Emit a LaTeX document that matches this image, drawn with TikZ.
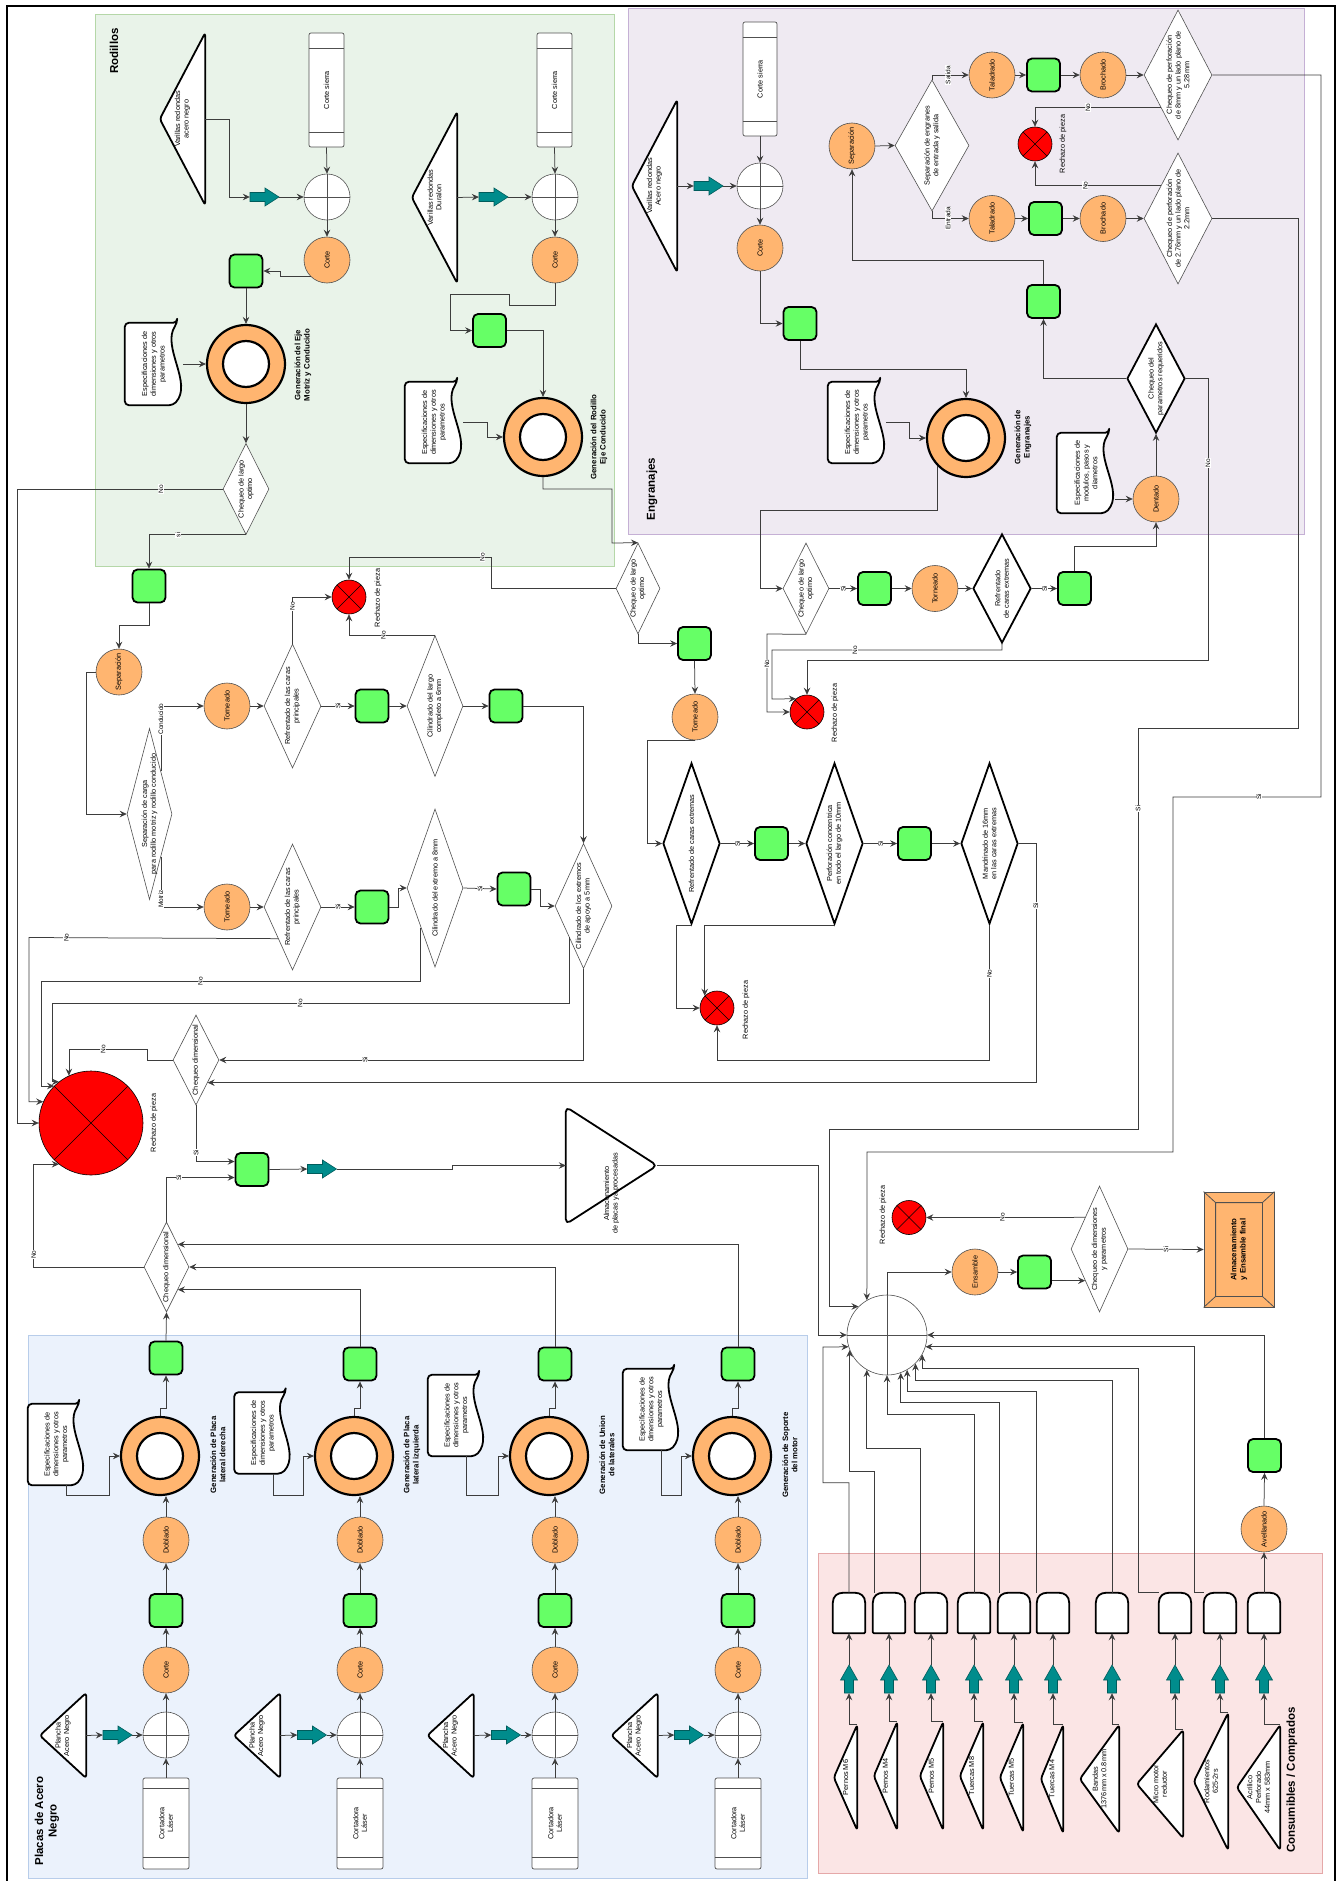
\documentclass[tikz,border=0pt]{standalone}
\usepackage{fontspec}
\setmainfont{Liberation Sans}
\usetikzlibrary{shapes.geometric,arrows.meta,calc}
\pgfdeclarelayer{bg}
\pgfdeclarelayer{shp}
\pgfsetlayers{bg,shp,main}

\definecolor{orangec}{HTML}{FFB570}
\definecolor{greenc}{HTML}{66FF66}
\definecolor{tealc}{HTML}{008C8C}
\definecolor{tealdk}{HTML}{005C5C}
\definecolor{linec}{HTML}{3D3D3D}
\definecolor{opline}{HTML}{505050}
\definecolor{rodf}{HTML}{E9F3E9}\definecolor{rodd}{HTML}{B5D7A8}
\definecolor{engf}{HTML}{EFEAF2}\definecolor{engd}{HTML}{C5B0D5}
\definecolor{plaf}{HTML}{EBF2FC}\definecolor{plad}{HTML}{B8CDEA}
\definecolor{conf}{HTML}{FBE5E5}\definecolor{cond}{HTML}{E5A8A8}

\newcommand\ftx{\fontsize{7.3}{8.7}\selectfont}
\newcommand\fln{\fontsize{6.5}{7.5}\selectfont}
\newcommand\fcap{\fontsize{7.8}{9.2}\selectfont\bfseries}
\newcommand\freg{\fontsize{11.5}{13.5}\selectfont\bfseries}

\tikzset{
  conn/.style={draw=linec, line width=0.75pt},
  arr/.style={conn, -{Stealth[length=7pt,width=6.5pt,inset=2.5pt]}},
  lab/.style={rotate=90, align=center, font=\ftx, inner sep=0pt},
  txt/.style={label={[lab]center:{#1}}},
  onl/.style={rotate=90, fill=white, inner sep=0.6pt, font=\fln},
  gcap/.style={rotate=90, align=center, font=\fcap, inner sep=0pt},
  regt/.style={rotate=90, align=center, font=\freg, inner sep=0pt},
  op/.style={circle, draw=opline, line width=0.6pt, fill=orangec, minimum size=46pt, inner sep=0pt},
  buf/.style={rectangle, rounded corners=5pt, draw=black, line width=1.8pt, fill=greenc, minimum size=33pt, inner sep=0pt},
  dia/.style 2 args={diamond, draw=opline, line width=0.6pt, fill=white, minimum width=#1pt, minimum height=#2pt, inner sep=0pt},
  thk/.style={draw=black, line width=1.8pt},
  mix/.style={circle, draw=opline, line width=0.6pt, fill=white, minimum size=46pt, inner sep=0pt},
  rej/.style={circle, draw=black, line width=0.6pt, fill=red, minimum size=34pt, inner sep=0pt},
  ring/.style={circle, draw=black, line width=2.2pt, fill=orangec, minimum size=78pt, inner sep=0pt},
  hole/.style={circle, draw=black, line width=2.2pt, fill=white, minimum size=46pt, inner sep=0pt},
  store/.style 2 args={rectangle, rounded corners=2pt, draw=opline, line width=0.7pt, fill=white, minimum width=#1pt, minimum height=#2pt, inner sep=0pt},
  frm/.style 2 args={minimum width=#1pt, minimum height=#2pt, inner sep=0pt},
  blk/.style={minimum width=29pt, minimum height=18pt, inner sep=0pt},
  blku/.style={minimum width=18pt, minimum height=28pt, inner sep=0pt},
  rawst/.style={draw=black, line width=1.8pt, fill=white, rounded corners=3pt, line join=round},
  docst/.style={draw=black, line width=1.8pt, fill=white, rounded corners=4pt, line join=round},
  tealst/.style={draw=tealdk, line width=0.6pt, fill=tealc},
}

\begin{document}
\begin{tikzpicture}[x=1pt,y=-1pt]
\useasboundingbox (0,0) rectangle (1339,1881);

% Zonas
\begin{pgfonlayer}{bg}
  \fill[white] (0,0) rectangle (1339,1881);
  \draw[rodd, fill=rodf, line width=0.8pt] (95,14) rectangle (614,566);
  \draw[engd, fill=engf, line width=0.8pt] (628,8) rectangle (1304,534);
  \draw[plad, fill=plaf, line width=0.8pt] (28,1335) rectangle (807,1878);
  \draw[cond, fill=conf, line width=0.8pt] (818,1553) rectangle (1322,1873);
\end{pgfonlayer}
\draw[line width=2.4pt] (7,1895) -- (7,6) -- (1335,6) -- (1335,1895);
\node[regt] (t1) at (114,51) {Rodillos};
\node[regt] (t2) at (652,489) {Engranajes};
\node[regt] (t3) at (47,1821) {Placas de Acero\\Negro};
\node[regt] (t4) at (1292,1780) {Consumibles / Comprados};

% Rodillos: eje motriz y conducido
\node[frm={45}{172}, txt={Varillas redondas\\acero negro}] (va1) at (182.5,119) {};
\node[store={35}{114}, txt={Corte sierra}] (cs1) at (326.5,90) {};
\node[blk] (ta1) at (264.5,197) {};
\node[mix] (mx1) at (327,197) {};
\node[op, txt={Corte}] (co1) at (327,260) {};
\node[buf] (g1) at (246,271) {};
\node[ring] (r1) at (246,364) {};
\node[frm={58}{82}, txt={Especificaciones de\\dimensiones y otros\\parametros}] (sp1) at (154,364) {};
\node[gcap] (gn1) at (303,365) {Generación del Eje\\Motriz y Conducido};
\node[dia={46}{91}, txt={Chequeo de largo\\optimo}] (ck1) at (246,489) {};
\node[buf] (g2) at (149,586) {};
\node[op, txt={Separación}] (se1) at (119,672) {};
\node[dia={45}{171}, txt={Separación de carga\\para rodillo motriz y rodillo conducido}] (sc1) at (149.5,814) {};
\node[op, txt={Torneado}] (tn1) at (227,706) {};
\node[dia={57}{124}, txt={Refrentado de las caras\\principales}] (rf1) at (292.5,706) {};
\node[rej] (x1) at (349,597) {};
\node[lab] (x1l) at (378,598) {Rechazo de pieza};
\node[buf] (g3) at (372,706) {};
\node[dia={56}{141}, txt={Cilindrado del largo\\completo a 6mm}] (cl1) at (435,706) {};
\node[buf] (g4) at (506,706) {};
\node[op, txt={Torneado}] (tn2) at (227,907) {};
\node[dia={57}{126}, txt={Refrentado de las caras\\principales}] (rf2) at (292.5,907) {};
\node[buf] (g5) at (372,907) {};
\node[dia={56}{158}, txt={Cilindrado del extremo a 8mm}] (cl2) at (435,888) {};
\node[buf] (g6) at (514,889) {};
\node[dia={57}{125}, txt={Cilindrado de los extremos\\de apoyo a 5mm}] (cl3) at (583.5,906) {};

% Rodillos: rodillo Duralon
\node[frm={45}{171}, txt={Varillas redondas\\Duralon}] (va2) at (434.5,197.5) {};
\node[store={35}{114}, txt={Corte sierra}] (cs2) at (554.5,90) {};
\node[blk] (ta2) at (493.5,197) {};
\node[mix] (mx2) at (555,197) {};
\node[op, txt={Corte}] (co2) at (555,260) {};
\node[buf] (g7) at (489.5,330.5) {};
\node[ring] (r2) at (543,437) {};
\node[frm={58}{81}, txt={Especificaciones de\\dimensiones y otros\\parametros}] (sp2) at (434,422.5) {};
\node[gcap] (gn2) at (599,437) {Generación del Rodillo\\Eje Conducido};
\node[dia={44}{91}, txt={Chequeo de largo\\optimo}] (ck2) at (638,588.5) {};
\node[buf] (g8) at (694.5,643.5) {};
\node[op, txt={Torneado}] (tn3) at (695,717) {};
\node[dia={57}{161}, thk, txt={Refrentado de caras extremas}] (rf3) at (691.5,843.5) {};
\node[buf] (g9) at (771.5,843.5) {};
\node[dia={57}{161}, thk, txt={Perforación concentrica\\en todo el largo de 10mm}] (pf1) at (834.5,843.5) {};
\node[buf] (g10) at (914.5,843.5) {};
\node[dia={57}{161}, thk, txt={Mandrinado de 16mm\\en las caras extremas}] (md1) at (989.5,843.5) {};
\node[rej] (x2) at (717,1008) {};
\node[lab] (x2l) at (746,1010) {Rechazo de pieza};

% Engranajes
\node[frm={45}{172}, txt={Varillas redondas\\Acero negro}] (va3) at (654.5,186) {};
\node[store={34}{114}, txt={Corte sierra}] (cs3) at (760,79) {};
\node[blk] (ta3) at (708.5,186) {};
\node[mix] (mx3) at (760,186) {};
\node[op, txt={Corte}] (co3) at (760,248) {};
\node[buf] (g11) at (800,323.5) {};
\node[ring] (r3) at (966,438) {};
\node[frm={58}{81}, txt={Especificaciones de\\dimensiones y otros\\parametros}] (sp3) at (857,422.5) {};
\node[gcap] (gn3) at (1023,437) {Generación de\\Engranajes};
\node[dia={46}{91}, txt={Chequeo de largo\\optimo}] (ck3) at (806,588.5) {};
\node[buf] (g12) at (874.5,588.5) {};
\node[op, txt={Torneado}] (tn4) at (935,588.5) {};
\node[dia={58}{109}, thk, txt={Refrentado\\de caras extremas}] (rf4) at (1002,588.5) {};
\node[buf] (g13) at (1074.5,588.5) {};
\node[op, txt={Dentado}] (dt1) at (1156,499) {};
\node[frm={58}{80}, txt={Especificaciones de\\modulos, pasos y\\diametros}] (sp4) at (1086,473) {};
\node[dia={58}{109}, thk, txt={Chequeo del\\parametros requeridos}] (cp1) at (1156,378.5) {};
\node[buf] (g14) at (1043.5,301.5) {};
\node[op, txt={Separación}] (se2) at (852,146) {};
\node[dia={74}{131}, txt={Separación de engranes\\de entrada y salida}] (sg1) at (932,145.5) {};
\node[op, txt={Taladrado}] (tl1) at (992,75) {};
\node[buf] (g15) at (1043.5,75) {};
\node[op, txt={Brochado}] (br1) at (1103,75) {};
\node[dia={68}{130}, txt={Chequeo de perforación\\de 8mm  y un lado plano de\\5.28mm}] (cq1) at (1178,75) {};
\node[rej] (x3) at (1035,144) {};
\node[lab] (x3l) at (1063,144) {Rechazo de pieza};
\node[op, txt={Taladrado}] (tl2) at (992,218.5) {};
\node[buf] (g16) at (1045.5,218.5) {};
\node[op, txt={Brochado}] (br2) at (1103,218.5) {};
\node[dia={68}{131}, txt={Chequeo de perforación\\de 2.76mm y un lado plano de\\2.2mm}] (cq2) at (1178,218.5) {};
\node[rej] (x4) at (807,712) {};
\node[lab] (x4l) at (835,713) {Rechazo de pieza};

% Chequeos, almacenamiento y ensamble
\node[dia={46}{90}, txt={Chequeo dimensional}] (cd1) at (196,1060) {};
\node[rej, minimum size=104pt] (xb) at (91,1123) {};
\node[lab] (xbl) at (154,1123) {Rechazo de pieza};
\node[buf] (g17) at (252,1169.5) {};
\node[blk] (ta4) at (322,1169) {};
\node[frm={91}{117}, label={[lab,xshift=-28pt]center:{Almacenamiento\\de placas ya procesadas}}] (al1) at (611.5,1165.5) {};
\node[dia={45}{90}, txt={Chequeo dimensional}] (cd2) at (166.5,1267) {};
\node[mix, minimum size=80pt] (as1) at (887,1335) {};
\node[op, txt={Ensamble}] (en1) at (975,1272) {};
\node[buf] (g18) at (1034.5,1272) {};
\node[dia={57}{126}, txt={Chequeo de dimensiones\\y parametros}] (ck4) at (1099.5,1249) {};
\node[rej] (x5) at (909,1217.5) {};
\node[lab] (x5l) at (883,1215) {Rechazo de pieza};
\node[rectangle, draw=opline, line width=0.8pt, fill=orangec, minimum width=70pt, minimum height=115pt, inner sep=0pt,
      label={[lab,font=\fcap]center:{Almacenamiento\\y Ensamble final}}] (fb1) at (1239,1249.5) {};
\draw[opline, line width=0.8pt] ([shift={(12pt,-11pt)}]fb1.north west) rectangle ([shift={(-12pt,11pt)}]fb1.south east)
  (fb1.north west) -- ([shift={(12pt,-11pt)}]fb1.north west)
  (fb1.north east) -- ([shift={(-12pt,-11pt)}]fb1.north east)
  (fb1.south west) -- ([shift={(12pt,11pt)}]fb1.south west)
  (fb1.south east) -- ([shift={(-12pt,11pt)}]fb1.south east);
\node[op, txt={Avellanado}] (av1) at (1264,1529) {};
\node[buf] (g19) at (1264.5,1455.5) {};

% Placas de acero negro
\foreach \i/\cx/\gy/\ap/\tx/\dx/\dy/\dd/\gt in {
    1/166/1358/63/117.5/56.5/1444.5/10/{Generación de Placa\\lateral derecha},
    2/360/1364/257/312/263/1433/21.5/{Generación de Placa\\lateral izquierda},
    3/555/1364/450.5/506/456.5/1415.5/39/{Generación de Union\\de laterales},
    4/738/1364/634.5/689/651.5/1409.5/45/{Generación de Soporte\\del motor}} {
  \node[buf] (pg\i) at (\cx,\gy) {};
  \node[ring] (pr\i) at (\cx-6,1456) {};
  \node[op, txt={Doblado}] (pb\i) at (\cx,1540) {};
  \node[buf] (pq\i) at (\cx,1610.5) {};
  \node[op, txt={Corte}] (pk\i) at (\cx,1670) {};
  \node[mix] (pm\i) at (\cx,1735) {};
  \node[store={46}{91}, txt={Cortadora\\Láser}] (pc\i) at (\cx,1823.5) {};
  \node[frm={46}{85}, txt={Plancha\\Acero Negro}] (pt\i) at (\ap,1735.5) {};
  \node[blk] (pa\i) at (\tx,1735) {};
  \node[frm={57}{81}, txt={Especificaciones de\\dimensiones y otros\\parametros}] (pd\i) at (\dx,\dy) {};
  \node[gcap] (pn\i) at (\cx+52,1455) {\gt};
  \draw[arr] (pc\i.north) -- (pm\i.south);
  \draw[arr] (pt\i.east) -- (pa\i.west);
  \draw[arr] (pa\i.east) -- (pm\i.west);
  \draw[arr] (pm\i.north) -- (pk\i.south);
  \draw[arr] (pk\i.north) -- (pq\i.south);
  \draw[arr] (pq\i.north) -- (pb\i.south);
  \draw[arr] (pb\i.north) -- (pb\i.north |- pr\i.south);
  \draw[arr] (pr\i.north) -- ++(0,-8) -| (pg\i.south);
  \draw[arr] ([xshift=10pt]pd\i.south) -- ++(0,\dd) -| ([xshift=-11pt]pr\i.west) -- (pr\i.west);
}

% Consumibles / comprados
\foreach \i/\x in {1/849,2/889,3/931,4/974,5/1014,6/1053,7/1112,8/1175,9/1220,10/1264} {
  \node[frm={32}{40}] (d\i) at (\x,1613) {};
  \node[blku] (tu\i) at (\x,1679) {};
}
\foreach \i/\x/\y/\w/\h/\nm in {
    1/845.5/1777.5/23/105/{Pernos M6}, 2/885.5/1776/23/108/{Pernos M4},
    3/931.5/1776/23/108/{Pernos M5}, 4/971.5/1776/23/108/{Tuercas M8},
    5/1011.5/1777.5/23/109/{Tuercas M5}, 6/1052/1779/22/108/{Tuercas M4},
    7/1099.5/1779/39/108/{Bandas\\1376mm x 0.8mm}, 8/1160/1784/46/108/{Micro motor\\reductor},
    9/1211/1781.5/34/137/{Rodamientos\\625-2rs}, 10/1258.5/1787.5/43/125/{Acrilico\\Perforado\\44mm x 583mm}}
  \node[frm={\w}{\h}, txt={\nm}] (tc\i) at (\x,\y) {};

% Figuras dibujadas
\begin{pgfonlayer}{shp}
  \foreach \t in {va1,va2,va3,pt1,pt2,pt3,pt4,tc1,tc2,tc3,tc4,tc5,tc6,tc7,tc8,tc9,tc10}
    \draw[rawst] (\t.north east) -- (\t.west) -- (\t.south east) -- cycle;
  \draw[rawst, rounded corners=5pt] (al1.north west) -- (al1.east) -- (al1.south west) -- cycle;
  \foreach \d in {sp1,sp2,sp3,sp4,pd1,pd2,pd3,pd4}
    \draw[docst] ($(\d.north east)+(-6,0)$) -- (\d.north west) -- (\d.south west) -- ($(\d.south east)+(-10,0)$)
      .. controls ($(\d.south east)+(10,-22)$) and ($(\d.north east)+(-22,24)$) .. ($(\d.north east)+(-6,0)$) -- cycle;
  \foreach \i in {1,...,10}
    \draw[rawst, rounded corners=1pt] (d\i.south west) -- ($(d\i.north west)+(0,11)$)
      .. controls ($(d\i.north west)+(0,3)$) and ($(d\i.north west)+(5,0)$) .. ($(d\i.north west)+(11,0)$)
      -- ($(d\i.north east)+(-11,0)$)
      .. controls ($(d\i.north east)+(-5,0)$) and ($(d\i.north east)+(0,3)$) .. ($(d\i.north east)+(0,11)$)
      -- (d\i.south east) -- cycle;
  \foreach \a in {ta1,ta2,ta3,ta4,pa1,pa2,pa3,pa4} {
    \begin{scope}[shift={(\a.center)}]
      \draw[tealst] (-14.5,-4.5) -- (0.5,-4.5) -- (0.5,-9) -- (14.5,0) -- (0.5,9) -- (0.5,4.5) -- (-14.5,4.5) -- cycle;
    \end{scope}
  }
  \foreach \a in {tu1,tu2,tu3,tu4,tu5,tu6,tu7,tu8,tu9,tu10} {
    \begin{scope}[shift={(\a.center)}]
      \draw[tealst] (-4.5,14) -- (-4.5,1) -- (-8.5,1) -- (0,-14) -- (8.5,1) -- (4.5,1) -- (4.5,14) -- cycle;
    \end{scope}
  }
\end{pgfonlayer}
\foreach \r in {r1,r2,r3,pr1,pr2,pr3,pr4} \node[hole] (\r-h) at (\r) {};
\foreach \m in {mx1,mx2,mx3,pm1,pm2,pm3,pm4,as1}
  \draw[opline, line width=0.6pt] (\m.north) -- (\m.south) (\m.west) -- (\m.east);
\foreach \r in {x1,x2,x3,x4,x5,xb}
  \draw[black, line width=0.6pt] (\r.45) -- (\r.225) (\r.135) -- (\r.315);
\foreach \s in {cs1,cs2,cs3}
  \draw[opline, line width=0.7pt] ([yshift=-16pt]\s.north west) -- ([yshift=-16pt]\s.north east)
    ([yshift=15pt]\s.south west) -- ([yshift=15pt]\s.south east);
\foreach \s in {pc1,pc2,pc3,pc4}
  \draw[opline, line width=0.7pt] ([yshift=-11pt]\s.north west) -- ([yshift=-11pt]\s.north east)
    ([yshift=12pt]\s.south west) -- ([yshift=12pt]\s.south east);

% Conexiones: eje motriz y conducido
\draw[arr] (va1.east) -- ++(24,0) |- (ta1.west);
\draw[arr] (ta1.east) -- (mx1.west);
\draw[arr] (cs1.south) -- (mx1.north);
\draw[arr] (mx1.south) -- (co1.north);
\draw[arr] (co1.south west) -- ++(-30,0) |- (g1.east);
\draw[arr] (g1.south) -- (r1.north);
\draw[arr] (sp1.east) -- (r1.west);
\draw[arr] (r1.south) -- (ck1.north);
\draw[arr] (ck1.west) -- node[onl,pos=.3] (l1) {No} (17,489) |- (xb.west);
\draw[arr] (ck1.south) -| node[onl,pos=.35] (l2) {si} (g2.north);
\draw[arr] (g2.south) -- ++(0,22) -| (se1.north);
\draw[arr] (se1.west) -- ++(-9,0) |- (sc1.west);
\draw[arr] (sc1.north east) |- node[onl,pos=.4] (l3) {Conducido} (tn1.west);
\draw[arr] (sc1.south east) |- node[onl,pos=.42] (l4) {Motriz} (tn2.west);
\draw[arr] (tn1.east) -- (rf1.west);
\draw[arr] (rf1.north) |- node[onl,pos=.4] (l5) {No} (x1.west);
\draw[arr] (rf1.east) -- node[onl] (l6) {Si} (g3.west);
\draw[arr] (g3.east) -- (cl1.west);
\draw[arr] (cl1.north) -| node[onl,pos=.3] (l7) {No} (x1.south);
\draw[arr] (cl1.east) -- (g4.west);
\draw[arr] (g4.east) -| (cl3.north);
\draw[arr] (tn2.east) -- (rf2.west);
\draw[arr] (rf2.east) -- node[onl] (l8) {Si} (g5.west);
\draw[arr] (g5.east) -- ++(9,0) |- (cl2.west);
\draw[arr] (cl2.east) -- node[onl] (l9) {Si} (g6.west);
\draw[arr] (g6.east) -- ++(9,0) |- (cl3.west);
\draw[arr] (cl3.south) |- node[onl,pos=.8] (l10) {Si} (cd1.east);
\draw[arr] (rf2.south west) -- node[onl,pos=.85] (l11) {No} (29,937.5) |- (xb.156);
\draw[arr] (cl2.south west) |- node[onl,pos=.79] (l12) {No} (41,981) |- (xb.135);
\draw[arr] (cl3.south west) |- node[onl,pos=.76] (l13) {No} (52,1003) |- (xb.128);

% Conexiones: rodillo Duralon
\draw[arr] (va2.east) -- (ta2.west);
\draw[arr] (ta2.east) -- (mx2.west);
\draw[arr] (cs2.south) -- (mx2.north);
\draw[arr] (mx2.south) -- (co2.north);
\draw[arr] (co2.south) -- ++(0,22) -| (509,294) -| (450,330.5) -- (g7.west);
\draw[arr] (g7.east) -| (r2.north);
\draw[arr] (sp2.east) -- ++(24,0) |- (r2.west);
\draw[arr] (r2.south) -- ++(0,12) -| (612,543) -- (ck2.north);
\draw[arr] (ck2.west) -- (491,588.5) |- node[onl,pos=.53] (l14) {No} (349,557) -- (x1.north);
\draw[arr] (ck2.south) |- (g8.west);
\draw[arr] (g8.south) -- (tn3.north);
\draw[arr] (tn3.south) -| (647,843.5) -- (rf3.west);
\draw[arr] (rf3.east) -- node[onl] (l15) {Si} (g9.west);
\draw[arr] (g9.east) -- (pf1.west);
\draw[arr] (pf1.east) -- node[onl] (l16) {Si} (g10.west);
\draw[arr] (g10.east) -- (md1.west);
\draw[arr] (md1.east) -- ++(17,0) |- node[onl,pos=.13] (l17) {Si} (cd1.south east);
\draw[arr] (md1.south) -- node[onl,pos=.36] (l18) {No} (989.5,1060) -| (x2.south);
\draw[arr] (rf3.south) -- ++(-15,0) |- (x2.west);
\draw[arr] (pf1.south) -| (x2.135);

% Conexiones: engranajes
\draw[arr] (va3.east) -- (ta3.west);
\draw[arr] (ta3.east) -- (mx3.west);
\draw[arr] (cs3.south) -- (mx3.north);
\draw[arr] (mx3.south) -- (co3.north);
\draw[arr] (co3.south) |- (g11.west);
\draw[arr] (g11.south) -- ++(0,28) -| (r3.north);
\draw[arr] (sp3.east) -- ++(23,0) |- (r3.west);
\draw[arr] (r3.south west) |- (760,510) |- (ck3.west);
\draw[arr] (ck3.east) -- node[onl] (l19) {Si} (g12.west);
\draw[arr] (g12.east) -- (tn4.west);
\draw[arr] (tn4.east) -- (rf4.west);
\draw[arr] (rf4.east) -- node[onl] (l20) {Si} (g13.west);
\draw[arr] (g13.north) -- ++(0,-25) -| (dt1.south);
\draw[arr] (sp4.east |- dt1.west) -- (dt1.west);
\draw[arr] (dt1.north) -- (cp1.south);
\draw[arr] (cp1.west) -| (g14.south);
\draw[arr] (cp1.east) -| node[onl,pos=.65] (l21) {No} (1208,660) -| (x4.north);
\draw[arr] (rf4.south) -- ++(0,6) -| node[onl,pos=.32] (l22) {No} (772,699) -- (x4.130);
\draw[arr] (ck3.south) -- (767,634) |- node[onl,pos=.19] (l23) {No} (x4.west);
\draw[arr] (g14.north) -- ++(0,-24) -| (se2.south);
\draw[arr] (se2.east) -- (sg1.west);
\draw[arr] (sg1.north) |- node[onl,pos=.72] (l24) {Salida} (tl1.west);
\draw[arr] (tl1.east) -- (g15.west);
\draw[arr] (g15.east) -- (br1.west);
\draw[arr] (br1.east) -- (cq1.west);
\draw[arr] (cq1.south west) -| node[onl,pos=.29] (l25) {No} (x3.north);
\draw[arr] (sg1.south) |- node[onl,pos=.72] (l26) {Entrada} (tl2.west);
\draw[arr] (tl2.east) -- (g16.west);
\draw[arr] (g16.east) -- (br2.west);
\draw[arr] (br2.east) -- (cq2.west);
\draw[arr] (cq2.north west) -| node[onl,pos=.3] (l27) {No} (x3.south);
\draw[arr] (cq1.east) -- (1321,75) |- node[onl,pos=.71] (l28) {Si} (1173,797) |- (867,1152) -- (as1.120);
\draw[arr] (cq2.east) -- (1298,218.5) |- (1138,728) |- node[onl,pos=.1] (l29) {Si} (829,1129) |- (as1.135);

% Conexiones: placas y ensamble
\draw[arr] (cd1.south) |- node[onl,pos=.42] (l30) {Si} ([yshift=8pt]g17.west);
\draw[arr] (cd1.west) -- (147,1060) -- (147,1049) -| node[onl,pos=.28] (l31) {No} (xb.115);
\draw[arr] (g17.east) -- (ta4.west);
\draw[arr] (ta4.east) -- (452,1169) |- (al1.west);
\draw[arr] (al1.east) -| (818,1335) -- (as1.west);
\draw[arr] (cd2.north) |- node[onl,pos=.59] (l32) {Si} ([yshift=-8pt]g17.west);
\draw[arr] (cd2.west) -- ++(-110,0) |- node[onl,pos=.06] (l33) {No} (xb.232);
\draw[arr] (pg1.north) -- (cd2.south);
\draw[arr] (pg2.north) |- (cd2.south east);
\draw[arr] (pg3.north) |- (cd2.east);
\draw[arr] (pg4.north) |- (cd2.north east);
\draw[arr] (as1.north) |- (en1.west);
\draw[arr] (en1.east) -- (g18.west);
\draw[arr] (g18.east |- ck4.south west) -- (ck4.south west);
\draw[arr] (ck4.north west) -- node[onl,pos=.52] (l34) {No} (x5.east);
\draw[arr] (ck4.east) -- node[onl] (l35) {Si} (fb1.west);

% Conexiones: consumibles
\foreach \i in {1,...,10} {
  \draw[arr] (tc\i.north east) -| (tu\i.south);
  \draw[arr] (tu\i.north) -- (d\i.south);
}
\draw[arr] (d1.north) -- ++(0,-110) -| (823,1347) -- (as1.197);
\draw[arr] ([xshift=2pt]d2.north west) -- ++(0,-121) -| (as1.202);
\draw[arr] ([xshift=6pt]d3.north west) -- ++(0,-144) -| (as1.240);
\draw[arr] (d4.north) -- ++(0,-178) -| (as1.south);
\draw[arr] ([xshift=2pt]d5.north west) -- ++(0,-190) -| (as1.290);
\draw[arr] (d6.north west) -- ++(0,-201) -| (as1.300);
\draw[arr] (d7.north) -- ++(0,-212) -| (as1.315);
\draw[arr] (d8.north west) -- ++(-20,0) -- ++(0,-224) -| (as1.331);
\draw[arr] (d9.north west) -- ++(-9,0) |- (as1.343);
\draw[arr] (d10.north) -- (av1.south);
\draw[arr] (av1.north) -- (g19.south);
\draw[arr] (g19.north) |- (as1.east);
\end{tikzpicture}
\end{document}
